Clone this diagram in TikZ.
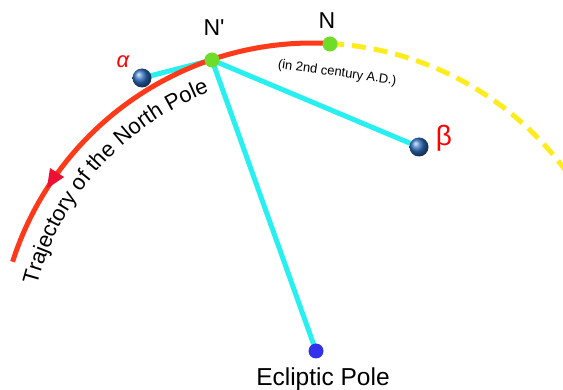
\documentclass[tikz,border=0pt]{standalone}
\usepackage{fontspec}
\setmainfont{Liberation Sans}
\usetikzlibrary{decorations.text,decorations.markings,arrows.meta,shadings}
\definecolor{trajred}{RGB}{255,58,26}
\definecolor{arrred}{RGB}{238,16,52}
\definecolor{cyanl}{RGB}{40,240,240}
\definecolor{ptgreen}{RGB}{110,220,40}
\definecolor{poleblue}{RGB}{50,50,235}
\definecolor{dashyel}{RGB}{255,236,30}
\definecolor{starblue}{RGB}{45,110,190}
\pgfdeclarelayer{bg}
\pgfsetlayers{bg,main}
\begin{document}
\begin{tikzpicture}[x=1pt,y=-1pt,
  dot/.style={circle,inner sep=0pt,minimum size=15pt,fill=ptgreen},
  poledot/.style={circle,inner sep=0pt,minimum size=15pt,fill=poleblue},
  starball/.style={circle,inner sep=0pt,minimum size=19pt,shading=ball,ball color=starblue},
  link/.style={draw=cyanl,line width=5pt},
  traj/.style={draw=trajred,line width=5pt},
  future/.style={draw=dashyel,line width=5pt,dash pattern=on 14pt off 8pt},
  lbl/.style={font=\fontsize{23}{23}\selectfont,inner sep=0pt},
  greek/.style={text=red,inner sep=0pt}]
\useasboundingbox (0,0) rectangle (563,390);
\clip (0,0) rectangle (563,390);
\coordinate (C) at (312.5,358);

\node[dot] (Np) at (212,60) {};
\node[dot] (N) at (330,44) {};
\node[starball] (alpha) at (142,78) {};
\node[starball] (beta) at (419,147) {};
\node[poledot] (pole) at (316,351) {};

\begin{pgfonlayer}{bg}
  \draw[link] (Np.center) -- (alpha.center);
  \draw[link] (Np.center) -- (beta.center);
  \draw[link] (Np.center) -- (pole.center);
  \draw[future] (C) ++(-86.8:315) arc[start angle=-86.8, end angle=-35, radius=315];
  \draw[traj, postaction={decorate},
        decoration={markings, mark=at position 0.807 with {\arrow[arrred]{Triangle[length=20pt,width=15pt]}}}]
    (C) ++(-86.8:315) arc[start angle=-86.8, end angle=-162.2, radius=315];
\end{pgfonlayer}

\node[lbl] (Nplbl) at (214,28) {N\textquotesingle};
\node[lbl] (Nlbl) at (327,21) {N};
\node[greek,font=\fontsize{22}{22}\selectfont\itshape] (alphalbl) at (123,62) {α};
\node[greek,font=\fontsize{28}{28}\selectfont] (betalbl) at (444,138) {β};
\node[font=\fontsize{24.5}{24.5}\selectfont,anchor=base,inner sep=0pt] (polelbl) at (323,385) {Ecliptic Pole};
\node[font=\fontsize{13}{13}\selectfont,rotate=-8,inner sep=0pt] (centlbl) at (337,73) {(in 2nd century A.D.)};

\path[decorate, decoration={text along path, text align=left,
      text={|\fontsize{22}{22}\selectfont|Trajectory of the North Pole}}]
  (C) ++(-165.3:285) arc[start angle=-165.3, end angle=-100, radius=285];
\end{tikzpicture}
\end{document}
